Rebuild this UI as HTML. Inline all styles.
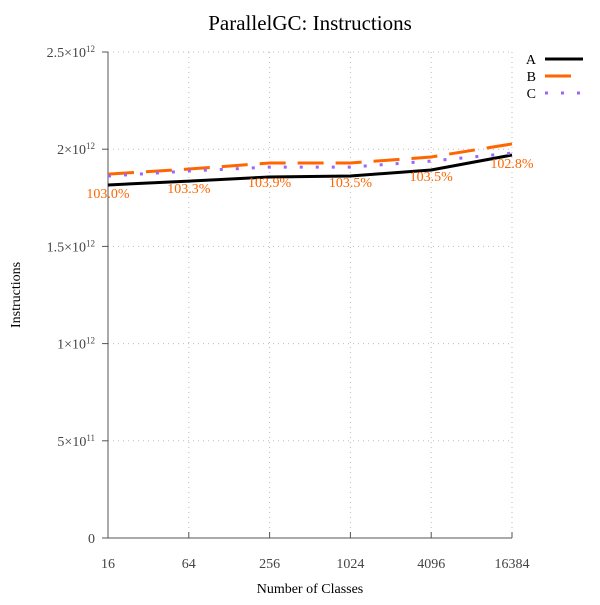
<!DOCTYPE html>
<html><head><style>
body{margin:0;background:#fff}
text{font-family:"Liberation Serif",serif}
</style></head><body>
<svg id="chart" width="600" height="600" xmlns="http://www.w3.org/2000/svg">
<text x="310" y="30" font-size="21" text-anchor="middle">ParallelGC: Instructions</text>
<g id="grid"></g><g id="axes"></g><g id="series"></g><g id="labels"></g>
<text x="310" y="593" font-size="14" text-anchor="middle">Number of Classes</text>
<text transform="translate(20,295) rotate(-90)" font-size="14" text-anchor="middle">Instructions</text>
<g>
<text x="536" y="64" font-size="14" text-anchor="end">A</text>
<line x1="545" y1="59" x2="583" y2="59" stroke="#000" stroke-width="3"/>
<text x="536" y="81" font-size="14" text-anchor="end">B</text>
<line x1="545" y1="76" x2="571" y2="76" stroke="#ff6600" stroke-width="3"/>
<text x="536" y="98" font-size="14" text-anchor="end">C</text>
<line x1="545" y1="93" x2="583" y2="93" stroke="#9966ff" stroke-width="3" stroke-dasharray="3 13"/>
</g>
</svg>
<script>
const categories=["16","64","256","1024","4096","16384"];
const seriesA=[1.816,1.836,1.857,1.862,1.893,1.970];
const seriesB=[1.872,1.898,1.929,1.929,1.960,2.027];
const seriesC=[1.862,1.888,1.908,1.908,1.939,1.980];
const pctLabels=["103.0%","103.3%","103.9%","103.5%","103.5%","102.8%"];
const yTicks=[0,0.5,1,1.5,2,2.5];
const yTickLabels=["0","5×10<tspan baseline-shift='super' font-size='9'>11</tspan>","1×10<tspan baseline-shift='super' font-size='9'>12</tspan>","1.5×10<tspan baseline-shift='super' font-size='9'>12</tspan>","2×10<tspan baseline-shift='super' font-size='9'>12</tspan>","2.5×10<tspan baseline-shift='super' font-size='9'>12</tspan>"];
const X0=108,X1=512,Y0=538,Y1=52;
const xs=i=>X0+(X1-X0)*i/(categories.length-1);
const ys=v=>Y0-(Y0-Y1)*v/2.5;
const NS="http://www.w3.org/2000/svg";
function mk(tag,attrs,parent){const e=document.createElementNS(NS,tag);for(const k in attrs)e.setAttribute(k,attrs[k]);document.getElementById(parent).appendChild(e);return e;}
categories.forEach((c,i)=>{
 const g=mk('line',{x1:xs(i),x2:xs(i),y1:Y1,y2:Y0,stroke:'#bbb','stroke-dasharray':'1 4'},'grid');
 
 
 const t=mk('line',{x1:xs(i),x2:xs(i),y1:Y0,y2:Y0-6,stroke:'#555'},'axes');
 
 
 const l=mk('text',{x:xs(i),y:Y0+30,'font-size':14,'text-anchor':'middle',fill:'#444'},'axes');
 l.textContent=c;
 
 
});
yTicks.forEach((v,i)=>{
 const g=mk('line',{x1:X0,x2:X1,y1:ys(v),y2:ys(v),stroke:'#bbb','stroke-dasharray':'1 4'},'grid');
 
 
 const t=mk('line',{x1:X0-6,x2:X0,y1:ys(v),y2:ys(v),stroke:'#555'},'axes');
 
 
 const l=mk('text',{x:X0-13,y:ys(v)+5,'font-size':14,'text-anchor':'end',fill:'#444'},'axes');
 l.innerHTML=yTickLabels[i];
 
 
});
const ax=mk('path',{d:`M${X0} ${Y1}V${Y0}H${X1}`,fill:'none',stroke:'#555'},'axes');


function line(vals,attrs,name){
 const d=vals.map((v,i)=>(i?'L':'M')+xs(i)+' '+ys(v)).join('');
 const p=mk('path',Object.assign({d,fill:'none','stroke-width':3},attrs),'series');
 
 
}
line(seriesA,{stroke:'#000'},'series-a-line');
line(seriesB,{stroke:'#ff6600','stroke-dasharray':'26 12'},'series-b-line');
line(seriesC,{stroke:'#9966ff','stroke-dasharray':'3 13'},'series-c-line');
pctLabels.forEach((s,i)=>{
 const t=mk('text',{x:xs(i),y:ys(seriesB[i])+24,'font-size':14,'text-anchor':'middle',fill:'#ff6600'},'labels');
 t.textContent=s;
 
 
});
</script>
</body></html>
